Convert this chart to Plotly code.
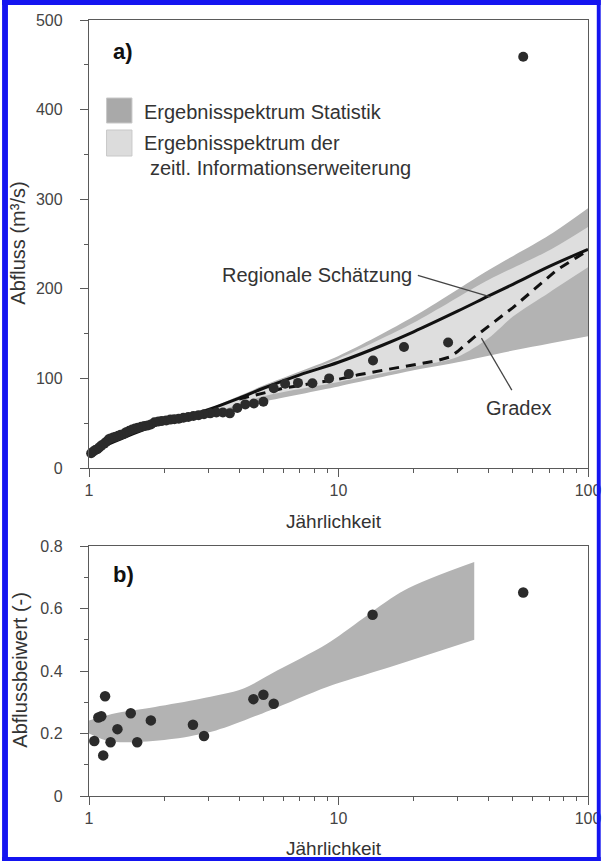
import plotly.graph_objects as go

# ---------------- data: panel a ----------------
T_obs = [55, 27.5, 18.3, 13.75, 11.0, 9.17, 7.86, 6.88, 6.11, 5.5, 5.0, 4.58, 4.23, 3.93,
         3.67, 3.44, 3.24, 3.06, 2.89, 2.75, 2.62, 2.5, 2.39, 2.29, 2.2, 2.12, 2.04, 1.96,
         1.9, 1.83, 1.77, 1.72, 1.67, 1.62, 1.57, 1.53, 1.49, 1.45, 1.41, 1.38, 1.34, 1.31,
         1.28, 1.25, 1.22, 1.2, 1.17, 1.15, 1.12, 1.1, 1.08, 1.06, 1.04, 1.02]
Q_obs = [459, 140, 135, 120, 105, 100, 94.5, 95, 94, 89, 74, 72, 71, 67,
         61, 62, 62, 61, 60, 59, 58, 57, 56, 55, 54.5, 54, 53, 52.5,
         52, 51, 48.5, 47.5, 47, 46, 45, 44, 43, 41.5, 40, 38, 37, 36,
         35, 34, 33, 32, 29, 27, 25, 23, 21, 20, 18.5, 16.5]

T_reg = [1, 1.5, 2, 2.5, 3, 4, 5, 7, 10, 15, 20, 30, 40, 50, 70, 100]
Q_reg = [17, 38, 51, 58, 65, 78, 89, 104, 118, 137, 152, 175, 192, 205, 225, 244]

T_grad = [4, 5, 6, 7, 8, 10, 12, 15, 20, 25, 28, 30, 35, 50, 75, 100]
Q_grad = [77, 84, 89, 92, 95, 99, 104, 109, 115, 120, 124, 130, 146, 179, 221, 243]

T_stat_up = [2.3, 3, 5, 10, 20, 40, 70, 100]
Q_stat_up = [55, 66, 92, 125, 169, 221, 260, 290]
T_stat_lo = [2.3, 3, 5, 10, 20, 30, 50, 100]
Q_stat_lo = [55, 60, 74, 91, 109, 118, 131, 147]

T_info_up = [2.3, 3, 5, 10, 20, 40, 70, 100]
Q_info_up = [55, 65, 90, 122, 162, 210, 243, 269]
T_info_lo = [2.3, 3, 5, 10, 20, 30, 40, 50, 70, 100]
Q_info_lo = [55, 60, 80, 96, 113, 124, 145, 169, 196, 224]

# ---------------- data: panel b ----------------
T_b = [1.05, 1.09, 1.12, 1.14, 1.16, 1.22, 1.30, 1.47, 1.56, 1.77, 2.61, 2.89, 4.56, 5.0, 5.5, 13.7, 55]
C_b = [0.176, 0.251, 0.255, 0.130, 0.319, 0.172, 0.214, 0.265, 0.172, 0.242, 0.228, 0.192,
       0.310, 0.324, 0.295, 0.580, 0.651]

T_bband_up = [1, 1.29, 1.84, 2.8, 4.14, 5.7, 9, 18.3, 35]
C_bband_up = [0.242, 0.266, 0.285, 0.311, 0.343, 0.402, 0.487, 0.658, 0.749]
T_bband_lo = [1, 1.2, 1.5, 2.19, 3.23, 5.3, 9, 15.3, 35]
C_bband_lo = [0.2, 0.175, 0.172, 0.183, 0.21, 0.274, 0.349, 0.407, 0.50]

# leader lines (annotation pointers) in data units
lead_reg_T = [20.8, 40.6]
lead_reg_Q = [215, 191]
lead_grad_T = [49.5, 37.4]
lead_grad_Q = [87, 145]

x_ticks = [1, 10, 100]
x_ticktext = ["1", "10", "100"]
x_minor = [2, 3, 4, 5, 6, 7, 8, 9, 20, 30, 40, 50, 60, 70, 80, 90]
ya_ticks = [0, 100, 200, 300, 400, 500]
ya_minor = [50, 150, 250, 350, 450]
yb_ticks = [0, 0.2, 0.4, 0.6, 0.8]
yb_ticktext = ["0", "0.2", "0.4", "0.6", "0.8"]
yb_minor = [0.1, 0.3, 0.5, 0.7]

# ---------------- styling ----------------
W, H = 613, 861
ML, MR, MT, MB = 89, 13, 20, 65
PW = W - ML - MR
PH = H - MT - MB
FONT = "Liberation Sans, Arial, sans-serif"
DARK = "#b3b3b3"
LIGHT = "#dedede"
PT = "#2b2b2b"
AX = "#5a5a5a"
TXT = "#333333"


def px(x, y):
    return (x - ML) / PW, (H - MB - y) / PH


fig = go.Figure()

edge = dict(width=0, shape="spline", smoothing=0.8)


def band(tl, vl, tu, vu, color, xa, ya):
    fig.add_trace(go.Scatter(x=tl, y=vl, mode="lines", line=edge, hoverinfo="skip",
                             showlegend=False, xaxis=xa, yaxis=ya))
    fig.add_trace(go.Scatter(x=tu, y=vu, mode="lines", line=edge, fill="tonexty", fillcolor=color,
                             hoverinfo="skip", showlegend=False, xaxis=xa, yaxis=ya))


# panel a bands
band(T_stat_lo, Q_stat_lo, T_stat_up, Q_stat_up, DARK, "x", "y")
band(T_info_lo, Q_info_lo, T_info_up, Q_info_up, LIGHT, "x", "y")
# lines
fig.add_trace(go.Scatter(x=T_reg, y=Q_reg, mode="lines", line=dict(color="#111111", width=3, shape="spline"),
                         showlegend=False, xaxis="x", yaxis="y"))
fig.add_trace(go.Scatter(x=T_grad, y=Q_grad, mode="lines",
                         line=dict(color="#111111", width=3, dash="10px,7px"),
                         showlegend=False, xaxis="x", yaxis="y"))
fig.add_trace(go.Scatter(x=lead_reg_T, y=lead_reg_Q, mode="lines", line=dict(color="#444444", width=1.3),
                         showlegend=False, xaxis="x", yaxis="y"))
fig.add_trace(go.Scatter(x=lead_grad_T, y=lead_grad_Q, mode="lines", line=dict(color="#444444", width=1.3),
                         showlegend=False, xaxis="x", yaxis="y"))
fig.add_trace(go.Scatter(x=T_obs, y=Q_obs, mode="markers", marker=dict(color=PT, size=10),
                         cliponaxis=False, showlegend=False, xaxis="x", yaxis="y"))

# panel b
band(T_bband_lo, C_bband_lo, T_bband_up, C_bband_up, DARK, "x2", "y2")
fig.add_trace(go.Scatter(x=T_b, y=C_b, mode="markers", marker=dict(color=PT, size=10.5),
                         cliponaxis=False, showlegend=False, xaxis="x2", yaxis="y2"))

tickfont = dict(family=FONT, size=16, color="#444444")


def xax(anchor):
    return dict(type="log", range=[0, 2], domain=[0, 1], anchor=anchor,
                tickvals=x_ticks, ticktext=x_ticktext, ticks="outside", ticklen=8,
                tickwidth=1.4, tickcolor=AX, showline=True, linecolor=AX, linewidth=1.4,
                mirror=True, showgrid=False, zeroline=False, tickfont=tickfont,
                ticklabelstandoff=0, ticklabeloverflow="allow",
                minor=dict(tickvals=x_minor, ticks="outside", ticklen=4, tickwidth=1.2, tickcolor=AX))


def yax(anchor, dom, rng, tv, tt, mv):
    return dict(range=rng, domain=dom, anchor=anchor, tickvals=tv, ticktext=tt,
                ticks="outside", ticklen=8, tickwidth=1.4, tickcolor=AX,
                showline=True, linecolor=AX, linewidth=1.4, mirror=True,
                showgrid=False, zeroline=False, tickfont=tickfont, ticklabelstandoff=14,
                ticklabeloverflow="allow",
                minor=dict(tickvals=mv, ticks="outside", ticklen=4, tickwidth=1.2, tickcolor=AX))


dom_a = [(H - MB - 468) / PH, 1]
dom_b = [0, (H - MB - 546) / PH]

fig.update_layout(
    width=W, height=H, margin=dict(l=ML, r=MR, t=MT, b=MB),
    paper_bgcolor="white", plot_bgcolor="white",
    xaxis=xax("y"),
    yaxis=yax("x", dom_a, [0, 500], ya_ticks, [str(v) for v in ya_ticks], ya_minor),
    xaxis2=xax("y2"),
    yaxis2=yax("x2", dom_b, [0, 0.8], yb_ticks, yb_ticktext, yb_minor),
    showlegend=False,
)

ann = []


def add_text(text, x, y, size=20, xanchor="center", yanchor="middle", angle=0, bold=False, color=TXT):
    xp, yp = px(x, y)
    ann.append(dict(text=("<b>%s</b>" % text) if bold else text, x=xp, y=yp, xref="paper", yref="paper",
                    xanchor=xanchor, yanchor=yanchor, showarrow=False, textangle=angle,
                    font=dict(family=FONT, size=size, color=color)))


add_text("a)", 112, 52, size=22, xanchor="left", bold=True, color="#111111")
add_text("b)", 112, 574, size=22, xanchor="left", bold=True, color="#111111")
add_text("Ergebnisspektrum Statistik", 143, 112, size=20, xanchor="left")
add_text("Ergebnisspektrum der", 143, 143, size=20, xanchor="left")
add_text("zeitl. Informationserweiterung", 149, 168, size=20, xanchor="left")
add_text("Regionale Schätzung", 422, 275, size=20, xanchor="right")
add_text("Gradex", 529, 408, size=20)
add_text("Jährlichkeit", 340, 521, size=19)
add_text("Jährlichkeit", 340, 848, size=19)
add_text("Abfluss (m³/s)", 16, 243, size=20, angle=-90)
add_text("Abflussbeiwert (-)", 18, 670, size=20, angle=-90)

shapes = []
# legend swatches
for (y0, y1, col) in [(98, 123, "#a9a9a9"), (130, 156, "#dcdcdc")]:
    x0p, y0p = px(107, y0)
    x1p, y1p = px(133, y1)
    shapes.append(dict(type="rect", xref="paper", yref="paper", x0=x0p, x1=x1p, y0=y0p, y1=y1p,
                       fillcolor=col, line=dict(color="#c8c8c8", width=1)))
# blue frame around the image
BLUE = "#1414f0"
for (x0, y0, x1, y1) in [(0, 0, 6, H), (0, 0, W, 5), (W - 4, 0, W, H), (0, H - 4, W, H)]:
    a0, b0 = px(x0, y0)
    a1, b1 = px(x1, y1)
    shapes.append(dict(type="rect", xref="paper", yref="paper", x0=a0, x1=a1, y0=b1, y1=b0,
                       fillcolor=BLUE, line=dict(width=0), layer="above"))

fig.update_layout(annotations=ann, shapes=shapes)
fig.write_html("out.html", config={"displayModeBar": False},
               post_script="document.body.style.margin='0px';document.body.style.overflow='hidden';")
